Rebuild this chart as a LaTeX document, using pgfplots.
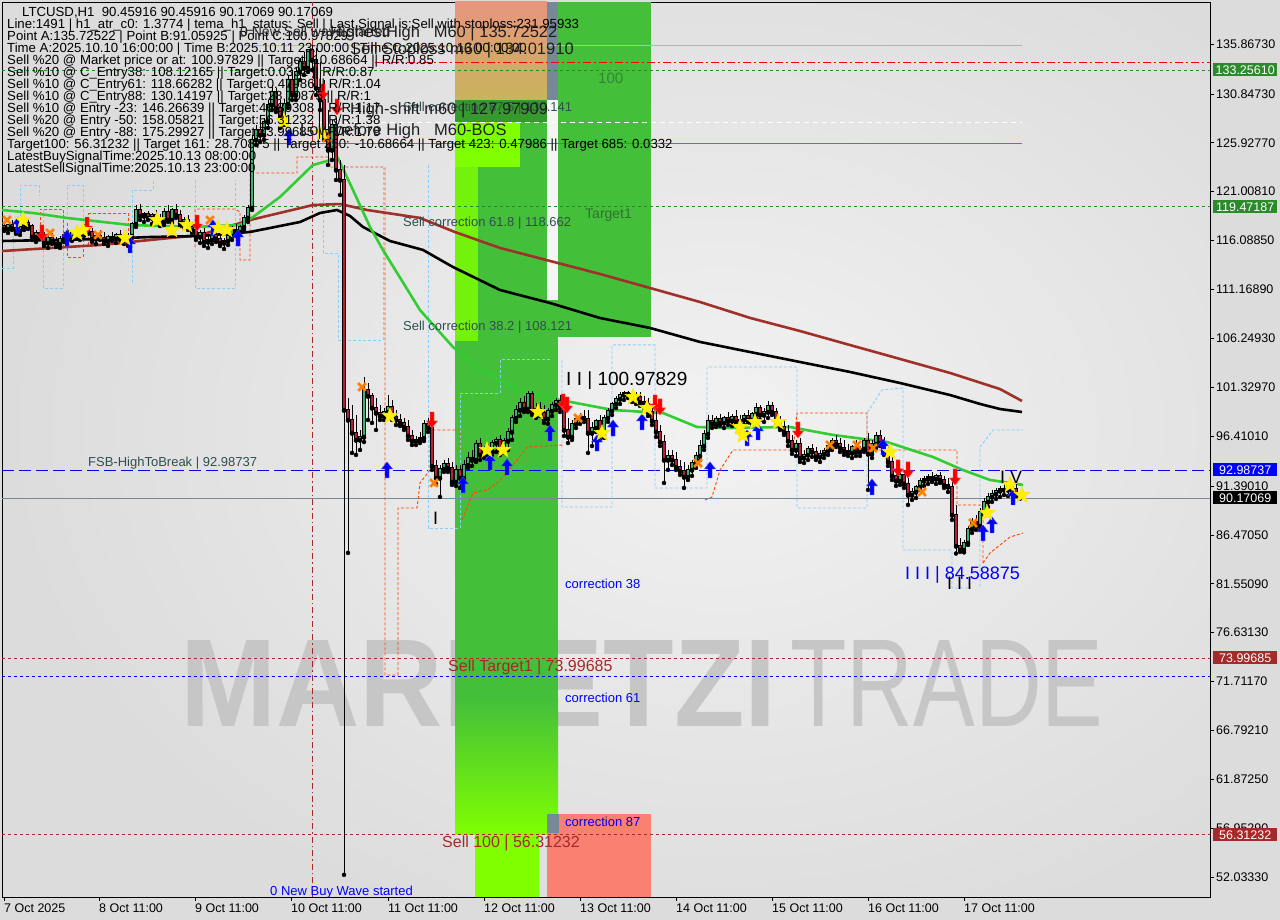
\documentclass[border=0pt]{standalone}
\usepackage{fontspec}
\setmainfont{Liberation Sans}
\usepackage{pgfplots}
\usepackage{pgfplotstable}
\pgfplotsset{compat=1.18}
\usetikzlibrary{plotmarks}
\definecolor{outbg}{HTML}{DCDCDC}
\definecolor{plotbg}{HTML}{DCDCDC}
\definecolor{glow}{HTML}{F2F2F2}
\definecolor{wm}{HTML}{C6C6C6}
\definecolor{bullc}{HTML}{3CB371}
\definecolor{bearc}{HTML}{B22234}
\definecolor{lblue}{HTML}{87CEFA}
\definecolor{ored}{HTML}{FF4500}
\definecolor{maGreen}{HTML}{32CD32}
\definecolor{maBrown}{HTML}{A0302A}
\definecolor{zgreen}{HTML}{44BF3A}
\definecolor{zlime}{HTML}{7FFF00}
\definecolor{salm}{HTML}{FA8072}
\definecolor{khaki}{HTML}{C8B45C}
\definecolor{pinkt}{HTML}{E8957E}
\definecolor{slate}{HTML}{778899}
\definecolor{dsg}{HTML}{2F4F4F}
\definecolor{tagg}{HTML}{2B8A2B}
\definecolor{brownr}{HTML}{A52A2A}
\definecolor{dgreen}{HTML}{228B22}
\newcommand\fs[1]{\fontsize{#1}{#1}\selectfont}
\pgfdeclareplotmark{fstar}{%
 \pgfpathmoveto{\pgfpointpolar{90}{\pgfplotmarksize}}%
 \pgfpathlineto{\pgfpointpolar{126}{0.42\pgfplotmarksize}}%
 \pgfpathlineto{\pgfpointpolar{162}{\pgfplotmarksize}}%
 \pgfpathlineto{\pgfpointpolar{198}{0.42\pgfplotmarksize}}%
 \pgfpathlineto{\pgfpointpolar{234}{\pgfplotmarksize}}%
 \pgfpathlineto{\pgfpointpolar{270}{0.42\pgfplotmarksize}}%
 \pgfpathlineto{\pgfpointpolar{306}{\pgfplotmarksize}}%
 \pgfpathlineto{\pgfpointpolar{342}{0.42\pgfplotmarksize}}%
 \pgfpathlineto{\pgfpointpolar{18}{\pgfplotmarksize}}%
 \pgfpathlineto{\pgfpointpolar{54}{0.42\pgfplotmarksize}}%
 \pgfpathclose\pgfusepathqfillstroke}
\pgfdeclareplotmark{uarr}{%
 \pgfpathmoveto{\pgfqpoint{0pt}{8pt}}%
 \pgfpathlineto{\pgfqpoint{-5.5pt}{1pt}}%
 \pgfpathlineto{\pgfqpoint{-2pt}{1pt}}%
 \pgfpathlineto{\pgfqpoint{-2pt}{-8pt}}%
 \pgfpathlineto{\pgfqpoint{2pt}{-8pt}}%
 \pgfpathlineto{\pgfqpoint{2pt}{1pt}}%
 \pgfpathlineto{\pgfqpoint{5.5pt}{1pt}}%
 \pgfpathclose\pgfusepathqfillstroke}
\pgfdeclareplotmark{darr}{%
 \pgfpathmoveto{\pgfqpoint{0pt}{-8pt}}%
 \pgfpathlineto{\pgfqpoint{-5.5pt}{-1pt}}%
 \pgfpathlineto{\pgfqpoint{-2pt}{-1pt}}%
 \pgfpathlineto{\pgfqpoint{-2pt}{8pt}}%
 \pgfpathlineto{\pgfqpoint{2pt}{8pt}}%
 \pgfpathlineto{\pgfqpoint{2pt}{-1pt}}%
 \pgfpathlineto{\pgfqpoint{5.5pt}{-1pt}}%
 \pgfpathclose\pgfusepathqfillstroke}

\pgfplotstableread{
x o h l c
8 117.25 117.76 116.85 117.65
20 117.05 117.55 116.65 117.45
24 117.45 118.06 117.15 117.86
36 116.45 117.15 115.94 116.85
48 115.84 116.55 115.34 116.35
60 115.74 116.55 115.34 116.25
64 116.25 116.95 115.94 116.65
72 116.45 117.05 116.04 116.85
80 116.65 117.25 116.15 117.05
84 117.05 117.76 116.55 117.35
96 116.25 116.85 115.74 116.55
108 116.04 116.65 115.54 116.45
116 116.25 116.85 115.84 116.65
128 116.15 116.85 115.54 116.55
132 116.55 117.96 116.35 117.76
136 117.76 119.67 117.45 119.16
144 118.56 118.96 117.96 118.76
152 118.36 118.86 117.76 118.66
164 117.96 119.37 117.65 118.96
172 118.16 119.37 117.86 119.16
184 117.86 118.46 117.35 118.16
200 116.45 117.15 115.84 116.85
208 115.94 116.55 115.34 116.15
212 116.15 116.95 115.74 116.65
224 115.84 116.35 115.24 116.04
228 116.04 116.85 115.64 116.55
232 116.55 117.55 116.15 117.15
240 116.95 117.65 116.65 117.45
244 117.45 118.66 117.15 118.36
248 118.36 119.67 117.96 119.37
252 119.37 126.71 119.16 126.21
256 126.21 127.72 125.70 127.21
264 126.71 128.42 126.21 128.02
268 128.02 130.23 127.41 129.73
272 129.73 131.74 129.22 131.03
284 128.42 130.23 127.72 129.83
288 129.83 132.75 129.43 132.24
296 130.73 133.45 130.23 133.05
300 133.05 134.45 132.24 134.05
308 133.45 135.40 133.05 135.26
332 125.20 128.22 124.19 127.72
360 96.02 97.02 95.01 96.32
364 96.32 102.35 95.81 101.05
384 98.43 99.24 98.03 98.83
388 98.83 100.54 98.23 99.34
416 95.91 96.42 95.51 96.02
420 96.02 96.82 95.71 96.22
424 96.22 98.03 95.91 97.63
440 92.19 93.50 90.28 93.10
444 93.10 94.00 92.80 93.60
456 91.79 93.50 91.39 93.00
464 92.19 94.00 91.79 93.50
468 93.50 94.81 93.20 94.20
476 94.00 96.02 93.80 95.61
484 94.51 95.41 94.20 95.01
492 94.81 96.02 94.51 95.71
496 95.71 96.32 94.81 96.02
504 95.01 96.22 94.71 95.91
508 95.91 97.22 95.01 96.82
512 96.82 98.53 96.02 98.23
516 98.23 99.54 97.83 99.03
520 99.03 100.24 98.43 99.74
528 99.13 100.98 98.83 100.64
536 98.83 99.74 98.23 99.13
548 98.13 99.24 97.63 98.93
552 98.93 99.84 98.43 99.54
556 99.54 100.24 99.03 99.94
572 96.32 98.03 96.02 97.63
576 97.63 98.53 97.22 98.13
580 98.13 98.73 97.63 98.33
592 96.72 97.83 95.41 97.22
596 97.22 98.13 96.82 97.93
604 96.52 98.53 96.22 98.23
608 98.23 99.24 97.83 98.93
612 98.93 99.84 98.53 99.64
616 99.64 100.44 99.24 100.14
620 100.14 100.84 99.64 100.54
624 100.54 100.90 100.04 100.75
636 100.14 100.84 99.64 100.34
668 94.00 95.01 93.00 94.41
688 92.29 93.50 91.99 93.00
692 93.00 94.00 92.40 93.70
696 93.70 94.81 93.20 94.41
700 94.41 96.02 94.00 95.41
704 95.41 97.02 95.01 96.62
708 96.62 98.53 96.22 97.93
716 97.63 98.43 97.32 98.13
724 97.73 98.43 97.22 98.23
732 97.93 98.63 97.42 98.33
740 97.83 98.53 97.22 98.03
744 98.03 98.73 97.52 98.43
752 98.03 98.83 97.63 98.63
756 98.63 99.74 98.23 99.24
764 98.53 99.24 97.83 98.83
768 98.83 99.94 98.23 99.44
796 95.01 96.02 94.41 95.61
804 94.20 95.01 93.70 94.51
808 94.51 95.41 94.00 95.11
820 94.31 95.01 93.80 94.61
824 94.61 95.21 94.20 94.91
828 94.91 95.81 94.51 95.41
832 95.41 96.22 95.01 95.91
852 94.71 95.51 94.20 95.31
860 94.81 95.41 94.41 95.11
864 95.11 96.22 94.81 95.91
872 94.61 96.02 94.20 95.61
876 95.61 96.82 95.21 96.42
900 91.89 92.80 91.49 92.50
912 90.48 91.19 89.98 90.78
916 90.78 91.49 90.18 91.29
920 91.29 92.19 90.99 91.89
924 91.89 92.40 91.39 92.09
928 92.09 92.60 91.59 92.29
936 92.09 92.60 91.59 92.40
964 84.95 85.96 84.70 85.65
968 85.65 87.36 85.45 87.06
972 87.06 88.17 86.66 87.77
980 87.36 89.17 86.96 88.77
984 88.77 90.18 88.47 89.78
988 89.78 90.68 89.28 90.28
992 90.28 90.99 89.78 90.58
996 90.58 91.19 90.08 90.89
1000 90.89 91.39 90.28 91.09
1008 90.99 91.49 90.38 91.29
}\bull

\pgfplotstableread{
x o h l c
4 117.55 117.96 117.05 117.25
12 117.65 118.16 117.15 117.35
16 117.35 117.76 116.75 117.05
28 117.86 118.26 117.25 117.55
32 117.55 117.76 116.15 116.45
40 116.85 117.35 116.35 116.55
44 116.55 116.95 115.54 115.84
52 116.35 116.85 115.74 116.04
56 116.04 116.45 115.44 115.74
68 116.65 117.15 116.15 116.45
76 116.85 117.35 116.35 116.65
88 117.35 117.76 116.75 116.95
92 116.95 117.35 115.94 116.25
100 116.55 117.15 116.15 116.35
104 116.35 116.95 115.74 116.04
112 116.45 116.95 116.04 116.25
120 116.65 117.15 116.15 116.45
124 116.45 116.95 115.74 116.15
140 119.16 119.77 118.16 118.56
148 118.76 119.06 118.16 118.36
156 118.66 119.16 117.96 118.26
160 118.26 118.76 117.55 117.96
168 118.96 119.67 117.96 118.16
176 119.16 119.77 118.36 118.66
180 118.66 119.16 117.55 117.86
188 118.16 118.66 117.15 117.45
192 117.45 117.96 116.85 117.15
196 117.15 117.55 116.15 116.45
204 116.85 117.35 115.54 115.94
216 116.65 117.15 115.94 116.25
220 116.25 116.85 115.54 115.84
236 117.15 117.76 116.55 116.95
260 127.21 128.22 126.00 126.71
276 131.03 131.44 129.02 129.43
280 129.43 130.23 127.41 128.42
292 132.24 133.25 130.23 130.73
304 134.05 135.06 132.75 133.45
312 135.26 135.73 133.25 134.25
316 134.25 135.46 130.73 131.44
320 131.44 134.05 129.22 130.23
324 130.23 132.24 126.21 127.21
328 127.21 129.22 123.69 125.20
336 127.72 128.42 122.18 123.19
340 123.19 124.19 120.67 122.18
344 122.18 123.69 52.25 99.03
348 99.03 100.24 84.65 98.03
352 98.03 99.54 94.71 96.72
356 96.72 98.53 94.51 96.02
368 101.05 101.75 98.03 100.44
372 100.44 100.74 97.73 99.24
376 99.24 100.24 97.02 98.73
380 98.73 99.54 98.03 98.43
392 99.34 100.04 98.03 98.33
396 98.33 99.03 97.52 98.03
400 98.03 98.63 97.42 97.73
404 97.73 98.23 97.02 97.32
408 97.32 98.03 96.02 96.42
412 96.42 97.02 95.51 95.91
428 97.63 98.23 96.82 97.22
432 97.22 97.52 93.00 93.40
436 93.40 94.00 91.59 92.19
448 93.60 94.20 92.80 93.20
452 93.20 93.80 91.49 91.79
460 93.00 93.50 91.19 92.19
472 94.20 95.01 93.40 94.00
480 95.61 96.22 94.00 94.51
488 95.01 95.61 94.41 94.81
500 96.02 96.52 94.51 95.01
524 99.74 100.44 98.83 99.13
532 100.64 100.95 98.53 98.83
540 99.13 99.84 98.43 98.73
544 98.73 99.54 97.73 98.13
560 99.94 100.54 98.83 99.24
564 99.24 99.84 96.42 97.02
568 97.02 98.23 95.71 96.32
584 98.33 99.03 97.83 98.13
588 98.13 99.03 94.71 96.72
600 97.93 98.53 96.02 96.52
628 100.75 100.92 100.24 100.64
632 100.64 100.85 99.84 100.14
640 100.34 100.84 99.44 99.84
644 99.84 100.44 99.24 99.64
648 99.64 100.24 98.43 98.83
652 98.83 99.54 97.52 97.93
656 97.93 99.03 96.32 96.82
660 96.82 97.52 95.41 95.81
664 95.81 96.52 91.69 94.00
672 94.41 95.01 93.50 94.00
676 94.00 94.81 93.00 93.30
680 93.30 94.00 92.50 92.90
684 92.90 93.80 91.19 92.29
712 97.93 98.53 97.22 97.63
720 98.13 98.63 97.42 97.73
728 98.23 98.83 97.52 97.93
736 98.33 99.03 97.63 97.83
748 98.43 99.03 97.73 98.03
760 99.24 99.54 98.03 98.53
772 99.44 99.84 98.53 98.83
776 98.83 99.24 97.52 97.93
780 97.93 98.43 97.02 97.32
784 97.32 98.03 96.52 96.82
788 96.82 97.52 95.41 95.91
792 95.91 96.52 94.61 95.01
800 95.61 96.22 93.80 94.20
812 95.11 95.61 94.31 94.81
816 94.81 95.31 94.00 94.31
836 95.91 96.52 95.31 95.61
840 95.61 96.22 94.81 95.21
844 95.21 96.02 94.51 94.91
848 94.91 95.61 94.41 94.71
856 95.31 96.02 94.41 94.81
868 95.91 96.72 90.99 94.61
880 96.42 97.02 95.41 95.71
884 95.71 96.32 94.51 94.81
888 94.81 95.31 93.40 93.80
892 93.80 94.51 91.99 92.40
896 92.40 93.20 91.39 91.89
904 92.50 93.00 91.19 91.59
908 91.59 92.19 89.48 90.48
932 92.29 92.80 91.79 92.09
940 92.40 92.80 91.69 91.99
944 91.99 92.40 91.19 91.49
948 91.49 92.19 90.78 91.29
952 91.29 91.99 87.97 88.47
956 88.47 89.48 84.59 85.35
960 85.35 86.16 84.75 84.95
976 87.77 88.47 86.96 87.36
1004 91.09 91.59 90.48 90.99
1012 91.29 91.59 90.78 91.09
1016 91.09 91.59 90.38 90.46
1020 90.46 90.46 90.17 90.17
}\bear

\begin{document}
\begin{tikzpicture}
\path[use as bounding box] (-2pt,-23pt) rectangle (1278pt,897pt);
\fill[outbg] (-2pt,-23pt) rectangle (1278pt,897pt);
\fill[plotbg] (0,0) rectangle (1208pt,895pt);
\begin{scope}
\clip (0,0) rectangle (1208pt,895pt);
\shade[inner color=glow, outer color=plotbg] (720pt,470pt) ellipse (720pt and 540pt);
\end{scope}
\begin{scope}[x=1pt,y=-1pt,shift={(-2pt,897pt)}]
\node[anchor=base west, inner sep=0pt, text=wm, xscale=0.924, font=\bfseries\fs{125}] at (180,727) {MARKETZI};
\node[anchor=base west, inner sep=0pt, text=wm, xscale=0.74, font=\fs{125}] at (790,727) {TRADE};
\end{scope}

\begin{axis}[
 scale only axis, width=1208pt, height=895pt, at={(0,0)}, anchor=south west,
 xmin=2, xmax=1210, ymin=50.021, ymax=140.094,
 axis line style={black, line width=0.8pt},
 clip=true,
 ytick={52.0333,56.9529,61.8725,66.7921,71.7117,76.6313,81.5509,86.4705,91.3901,96.4101,101.3297,106.2493,111.1689,116.0885,121.0081,125.9277,130.8473,135.8673},
 yticklabels={52.03330,56.95290,61.87250,66.79210,71.71170,76.63130,81.55090,86.47050,91.39010,96.41010,101.32970,106.24930,111.16890,116.08850,121.00810,125.92770,130.84730,135.86730},
 ytick pos=right, yticklabel pos=right,
 xtick={4,99,195,291,388,484,580,676,772,868,964},
 xticklabels={7 Oct 2025,8 Oct 11:00,9 Oct 11:00,10 Oct 11:00,11 Oct 11:00,12 Oct 11:00,13 Oct 11:00,14 Oct 11:00,15 Oct 11:00,16 Oct 11:00,17 Oct 11:00},
 xtick pos=left,
 tick align=outside, major tick length=4pt,
 tick style={black, line width=0.6pt},
 ticklabel style={font=\fs{12.5}, text=black},
 xticklabel style={anchor=north west, inner sep=0pt, yshift=-3pt},
 yticklabel style={anchor=west, inner sep=0pt, xshift=2pt},
 /pgf/number format/assume math mode=true,
]
% zones
\shade[top color=pinkt, bottom color=khaki] (axis cs:455,140.094) rectangle (axis cs:547,130.23);
\fill[slate] (axis cs:547,140.094) rectangle (axis cs:558,130.23);
\fill[white!92!gray] (axis cs:547,130.23) rectangle (axis cs:558,110.1);
\fill[zgreen] (axis cs:558,140.094) rectangle (axis cs:651,106.38);
\fill[zgreen] (axis cs:455,130.23) rectangle (axis cs:547,56.31);
\fill[zgreen] (axis cs:547,110.1) rectangle (axis cs:558,56.31);
\fill[zgreen!80!black] (axis cs:455,130.23) rectangle (axis cs:547,128.0);
\fill[zlime] (axis cs:455,128.0) rectangle (axis cs:520,123.5);
\fill[zlime!80!zgreen] (axis cs:455,123.5) rectangle (axis cs:478,106.0);
\shade[top color=zgreen, bottom color=zlime] (axis cs:455,70.0) rectangle (axis cs:558,56.31);
\fill[zlime] (axis cs:475,56.31) rectangle (axis cs:539,50.021);
\fill[salm] (axis cs:547,58.39) rectangle (axis cs:651,50.021);
\fill[slate] (axis cs:547,58.39) rectangle (axis cs:559,56.48);
% level lines
\addplot[zlime!90!green, line width=0.9pt] coordinates {(240,135.72522) (655,135.72522)};
\addplot[gray!60, line width=0.9pt] coordinates {(655,135.72522) (1022,135.72522)};
\addplot[red, line width=1pt, dash pattern=on 8pt off 3pt on 2pt off 3pt] coordinates {(375,134.0191) (1210,134.0191)};
\addplot[dgreen, line width=0.8pt, dash pattern=on 3pt off 3pt] coordinates {(2,133.2561) (1210,133.2561)};
\addplot[white, line width=1pt, dash pattern=on 5pt off 4pt] coordinates {(300,127.97909) (1022,127.97909)};
\addplot[ored, line width=0.9pt] coordinates {(250,125.90) (1022,125.90)};
\addplot[dgreen, line width=0.8pt, dash pattern=on 3pt off 3pt] coordinates {(2,119.47187) (1210,119.47187)};
\addplot[blue, line width=1pt, dash pattern=on 12pt off 5pt] coordinates {(2,92.98737) (1210,92.98737)};
\addplot[slate, line width=1pt] coordinates {(2,90.17069) (1210,90.17069)};
\addplot[brownr, line width=0.8pt, dash pattern=on 3pt off 3pt] coordinates {(2,73.99685) (1210,73.99685)};
\addplot[blue, line width=0.8pt, dash pattern=on 3pt off 3pt] coordinates {(2,72.26) (1210,72.26)};
\addplot[brownr, line width=0.8pt, dash pattern=on 3pt off 3pt] coordinates {(2,56.31232) (1210,56.31232)};
\addplot[brownr, line width=0.8pt, dash pattern=on 6pt off 3pt on 1.5pt off 3pt] coordinates {(312,50.021) (312,140.094)};
% channels light blue
\addplot[lblue, line width=0.9pt, dash pattern=on 3pt off 2pt] coordinates {(2,113.32) (13,113.32) (13,117.35) (20,117.35) (20,121.68) (39,121.68) (39,120.67)};
\addplot[lblue, line width=0.9pt, dash pattern=on 3pt off 2pt] coordinates {(43,119.16) (43,111.31) (63,111.31) (63,119.16)};
\addplot[lblue, line width=0.9pt, dash pattern=on 3pt off 2pt] coordinates {(67,118.66) (67,121.68) (83,121.68) (83,116.95)};
\addplot[lblue, line width=0.9pt, dash pattern=on 3pt off 2pt] coordinates {(132,111.81) (132,121.17) (153,121.17) (153,122.18)};
\addplot[lblue, line width=0.9pt, dash pattern=on 3pt off 2pt] coordinates {(195,122.18) (195,111.31) (235,111.31) (235,122.18)};
\addplot[lblue, line width=0.9pt, dash pattern=on 3pt off 2pt] coordinates {(323,122.18) (323,114.83) (338,114.83) (338,106.08) (383,106.08) (383,123.39)};
\addplot[lblue, line width=0.9pt, dash pattern=on 3pt off 2pt] coordinates {(428,123.69) (428,87.16) (460,87.16) (460,100.74) (500,100.74) (500,104.07) (550,104.07)};
\addplot[lblue, line width=0.9pt, dash pattern=on 3pt off 2pt] coordinates {(562,104.07) (562,89.27) (612,89.27) (612,105.58) (655,105.58) (655,91.18) (707,91.18) (707,103.36) (797,103.36) (797,89.17) (867,89.17) (867,98.73) (882,101.05) (903,101.25) (903,84.94) (952,84.94) (952,81.12) (970,81.12)};
\addplot[lblue, line width=0.9pt, dash pattern=on 3pt off 2pt] coordinates {(980,81.22) (980,95.31) (993,97.02) (1023,97.02)};
% channels orange
\addplot[ored, line width=0.9pt, dash pattern=on 3pt off 2pt] coordinates {(40,116.14) (40,119.26) (63,119.26) (63,115.44)};
\addplot[ored, line width=0.9pt, dash pattern=on 3pt off 2pt] coordinates {(67,117.85) (67,114.43) (83,114.43) (83,117.85)};
\addplot[ored, line width=0.9pt, dash pattern=on 3pt off 2pt] coordinates {(88,118.86) (128,118.86) (128,115.74) (88,115.74) (88,118.86)};
\addplot[ored, line width=0.9pt, dash pattern=on 3pt off 2pt] coordinates {(195,115.44) (195,119.26) (235,119.26) (240,118.96) (240,114.13) (250,114.13) (250,122.88) (297,122.88) (297,124.49) (330,124.49) (330,123.49) (385,123.49) (385,72.36) (398,72.36)};
\addplot[ored, line width=0.9pt, dash pattern=on 3pt off 2pt] coordinates {(398,72.36) (398,89.17) (417,89.17) (420,91.69) (430,92.99) (430,97.02) (460,97.02) (460,95.01)};
\addplot[ored, line width=0.9pt, dash pattern=on 3pt off 2pt] coordinates {(462,87.97) (473,90.68) (487,90.98) (497,91.69) (503,92.29) (517,94.00) (527,95.31) (563,95.51)};
\addplot[ored, line width=0.9pt, dash pattern=on 3pt off 2pt] coordinates {(705,89.98) (712,90.28) (720,92.99) (733,95.01) (793,95.01) (797,98.73) (867,98.73) (867,95.01) (957,95.01) (957,89.47) (983,89.47) (983,83.63)};
\addplot[ored, line width=0.9pt, dash pattern=on 3pt off 2pt] coordinates {(983,83.63) (990,84.64) (1010,86.25) (1023,86.65)};
% moving averages
\addplot[maBrown, line width=2.6pt] coordinates {(2,115.03) (100,115.64) (200,116.64) (250,118.15) (313,119.66) (340,119.76) (367,119.16) (420,118.36) (455,116.94) (500,115.34) (550,114.03) (600,112.72) (650,111.31) (700,109.90) (750,108.30) (800,106.98) (850,105.57) (900,104.17) (950,102.76) (1000,101.14) (1022,99.94)};
\addplot[black, line width=2.6pt] coordinates {(2,116.04) (50,116.14) (100,116.24) (150,116.44) (200,116.54) (250,116.95) (280,117.55) (300,117.95) (320,118.86) (337,119.16) (350,118.56) (363,117.45) (390,116.04) (423,115.14) (453,113.42) (500,111.11) (550,109.80) (600,108.29) (650,107.29) (700,105.88) (750,104.87) (800,103.86) (850,102.86) (900,101.75) (950,100.54) (980,99.64) (1000,99.13) (1022,98.83)};
\addplot[maGreen, line width=2.6pt] coordinates {(2,119.16) (33,118.86) (67,118.36) (130,117.65) (193,117.45) (240,117.65) (253,118.46) (280,120.47) (313,123.69) (338,124.39) (353,121.17) (370,117.45) (383,115.13) (420,109.09) (453,105.37) (480,103.06) (520,101.05) (560,100.04) (613,99.03) (663,98.73) (697,97.32) (730,97.22) (790,97.32) (833,96.52) (887,95.81) (933,94.30) (963,92.99) (990,91.99) (1023,91.49)};
% candles: wicks
\addplot[only marks, mark=none, forget plot, error bars/.cd, y dir=plus, y explicit, error mark=none, error bar style={black, line width=0.9pt}] table[x=x, y=l, y error plus expr=\thisrow{h}-\thisrow{l}] {\bull};
\addplot[only marks, mark=none, forget plot, error bars/.cd, y dir=plus, y explicit, error mark=none, error bar style={black, line width=0.9pt}] table[x=x, y=l, y error plus expr=\thisrow{h}-\thisrow{l}] {\bear};
% bodies
\addplot[only marks, mark=none, forget plot, error bars/.cd, y dir=plus, y explicit, error mark=none, error bar style={black, line width=3.4pt}] table[x=x, y expr=\thisrow{o}-0.07, y error plus expr=\thisrow{c}-\thisrow{o}+0.14] {\bull};
\addplot[only marks, mark=none, forget plot, error bars/.cd, y dir=plus, y explicit, error mark=none, error bar style={bullc, line width=2.0pt}] table[x=x, y=o, y error plus expr=\thisrow{c}-\thisrow{o}] {\bull};
\addplot[only marks, mark=none, forget plot, error bars/.cd, y dir=plus, y explicit, error mark=none, error bar style={black, line width=3.4pt}] table[x=x, y expr=\thisrow{c}-0.07, y error plus expr=\thisrow{o}-\thisrow{c}+0.14] {\bear};
\addplot[only marks, mark=none, forget plot, error bars/.cd, y dir=plus, y explicit, error mark=none, error bar style={bearc, line width=2.0pt}] table[x=x, y=c, y error plus expr=\thisrow{o}-\thisrow{c}] {\bear};
% signals
\addplot[only marks, mark=x, mark size=5.5pt, mark options={draw=orange, line width=2.6pt}] coordinates {(7,118.15) (50,116.85) (98,116.65) (210,118.15) (327,126.41) (362,101.35) (434,91.69) (578,98.23) (698,93.70) (830,95.51) (857,95.51) (873,95.21) (922,90.78) (973,87.66)};
\addplot[only marks, mark=uarr, mark options={fill=blue, draw=blue!70!white, line width=0.4pt}] coordinates {(18,117.65) (67,116.34) (130,115.64) (213,117.35) (238,116.34) (289,126.51) (387,93.00) (463,91.49) (490,93.80) (507,93.30) (550,96.72) (597,95.71) (613,97.22) (642,97.83) (710,93.00) (747,96.22) (758,96.82) (872,91.29) (883,95.31) (983,86.66) (992,87.46) (1013,90.28)};
\addplot[only marks, mark=darr, mark options={fill=red, draw=red!70!white, line width=0.4pt}] coordinates {(42,116.85) (87,117.65) (197,117.85) (323,131.04) (337,129.53) (432,98.03) (563,99.84) (567,99.54) (655,99.74) (660,99.34) (798,97.02) (898,93.20) (908,93.00) (955,92.29)};
\addplot[only marks, mark=fstar, mark size=8.5pt, mark options={fill=yellow, draw=yellow!80!orange, line width=0.4pt}] coordinates {(23,118.15) (77,116.85) (83,117.15) (125,116.35) (157,118.15) (172,117.15) (187,117.65) (218,117.35) (227,117.15) (284,128.12) (322,126.91) (390,98.43) (487,95.01) (503,95.01) (538,98.83) (602,96.72) (633,100.34) (647,99.23) (740,97.32) (743,96.52) (755,97.82) (778,97.82) (890,94.81) (987,88.67) (1010,91.49) (1022,90.48)};
\end{axis}

\begin{scope}[x=1pt,y=-1pt,shift={(-2pt,897pt)}]
\begin{scope}[every node/.style={anchor=west, inner sep=0pt, font=\fs{13.2}, text=black}]
\node at (22,13) {LTCUSD,H1\ \ 90.45916 90.45916 90.17069 90.17069};
\node at (7,25) {Line:1491 | h1\_atr\_c0: 1.3774 | tema\_h1\_status: Sell | Last Signal is:Sell with stoploss:231.95933};
\node at (7,37) {Point A:135.72522 | Point B:91.05925 | Point C:100.97829};
\node at (7,49) {Time A:2025.10.10 16:00:00 | Time B:2025.10.11 23:00:00 | Time C:2025.10.13 00:00:00};
\node at (7,61) {Sell \%20 @ Market price or at: 100.97829 || Target:-10.68664 || R/R:0.85};
\node at (7,73) {Sell \%10 @ C\_Entry38: 108.12165 || Target:0.0332 || R/R:0.87};
\node at (7,85) {Sell \%10 @ C\_Entry61: 118.66282 || Target:0.47986 || R/R:1.04};
\node at (7,97) {Sell \%10 @ C\_Entry88: 130.14197 || Target:28.70875 || R/R:1};
\node at (7,109) {Sell \%10 @ Entry -23: 146.26639 || Target:46.89308 || R/R:1.17};
\node at (7,121) {Sell \%20 @ Entry -50: 158.05821 || Target:56.31232 || R/R:1.38};
\node at (7,133) {Sell \%20 @ Entry -88: 175.29927 || Target:73.99685 || R/R:1.79};
\node at (7,145) {Target100: 56.31232 || Target 161: 28.70875 || Target 250: -10.68664 || Target 423: 0.47986 || Target 685: 0.0332};
\node at (7,157) {LatestBuySignalTime:2025.10.13 08:00:00};
\node at (7,169) {LatestSellSignalTime:2025.10.13 23:00:00};
\end{scope}
\begin{scope}[every node/.style={anchor=west, inner sep=0pt}]
\node[font=\fs{14}, text=black!85] at (240,32) {0 New Sell wave started};
\node[font=\fs{16.5}, text=black!88] at (330,33) {HighestHigh\ \ \ M60 | 135.72522};
\node[font=\fs{16.5}, text=black!88] at (350,50) {Sell Stoploss m60 | 134.01910};
\node[font=\fs{13}, text=dsg] at (403,108) {Sell correction 87.5 | 130.141};
\node[font=\fs{16.5}, text=black!88] at (350,110) {High-shift m60 | 127.97909};
\node[font=\fs{16.5}, text=black!88] at (300,131) {Low before High\ \ \ M60-BOS};
\node[font=\fs{13}, text=dsg] at (403,223) {Sell correction 61.8 | 118.662};
\node[font=\fs{13}, text=dsg] at (403,327) {Sell correction 38.2 | 108.121};
\node[font=\fs{15}, text=green!40!black!80] at (598,78) {100};
\node[font=\fs{14}, text=green!30!black!80] at (585,215) {Target1};
\node[font=\fs{13}, text=dsg] at (88,463) {FSB-HighToBreak | 92.98737};
\node[font=\fs{13}, text=blue] at (565,584) {correction 38};
\node[font=\fs{13}, text=blue] at (565,698) {correction 61};
\node[font=\fs{13}, text=blue] at (565,822) {correction 87};
\node[font=\fs{13}, text=blue] at (270,892) {0 New Buy Wave started};
\node[font=\fs{16}, text=brownr] at (448,667) {Sell Target1 | 73.99685};
\node[font=\fs{16}, text=brownr] at (442,843) {Sell 100 | 56.31232};
\node[font=\fs{19}, text=black] at (566,381) {I I | 100.97829};
\node[font=\fs{18}, text=blue] at (905,575) {I I I | 84.58875};
\node[font=\fs{18}, text=black] at (1000,477) {I V};
\node[font=\fs{18}, text=black] at (433,518) {I};
\node[font=\fs{18}, text=black] at (947,583) {I I I};
\end{scope}
\begin{scope}[every node/.style={anchor=west, inner sep=0pt, minimum width=64pt, minimum height=13pt, font=\fs{12.5}, text=white}]
\node[fill=tagg] at (1213,70) {133.25610};
\node[fill=tagg] at (1213,207) {119.47187};
\node[fill=blue] at (1213,470) {92.98737};
\node[fill=black] at (1213,498) {90.17069};
\node[fill=brownr] at (1213,658) {73.99685};
\node[fill=brownr] at (1213,835) {56.31232};
\end{scope}
\end{scope}
\end{tikzpicture}
\end{document}
